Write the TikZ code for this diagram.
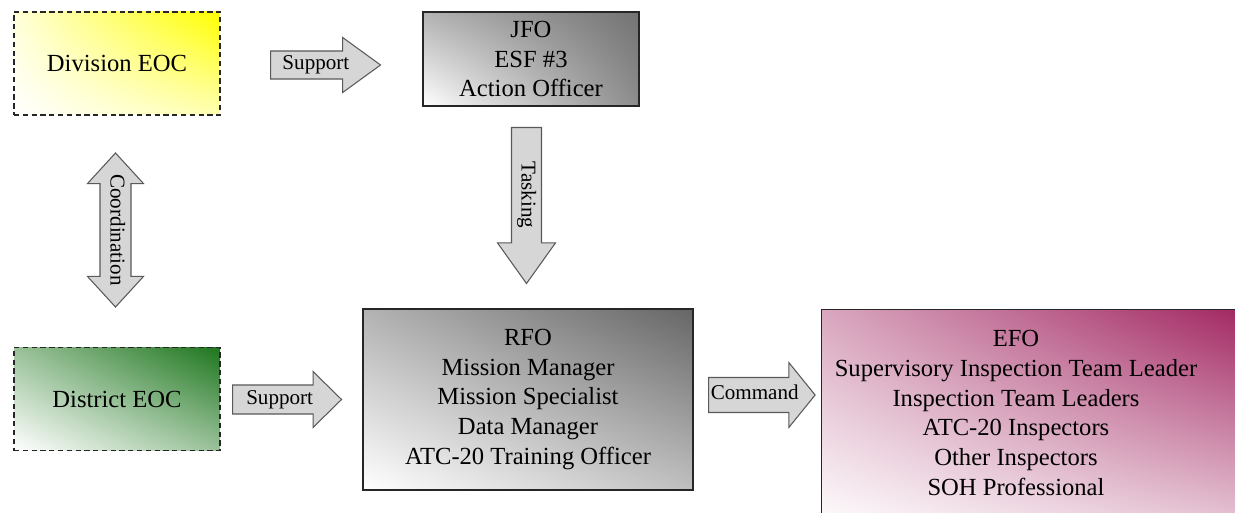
\documentclass[tikz,border=0pt]{standalone}
\usepackage{fontspec}
\setmainfont{Liberation Serif}
\newfontfamily\chartfont{Liberation Serif}
\usetikzlibrary{shapes.arrows, shadings, positioning}

\definecolor{distgreen}{RGB}{30,118,30}
\definecolor{efomaroon}{RGB}{160,35,95}
\definecolor{arrowgray}{RGB}{214,214,214}

\begin{document}
\begin{tikzpicture}[
  eocbox/.style={rectangle, draw=black!85, line width=0.8pt, dash pattern=on 3pt off 2pt,
                 minimum width=4.12cm, minimum height=2.06cm, font=\chartfont\fontsize{14}{17}\selectfont},
  officebox/.style={rectangle, draw=black!85, line width=0.8pt, align=center,
                    font=\chartfont\fontsize{14}{17}\selectfont},
  boxtext/.style={align=center, font=\chartfont\fontsize{14}{17}\selectfont},
  onearrow/.style={single arrow, draw=black!65, fill=arrowgray, line width=0.6pt, anchor=tail,
                   font=\chartfont\fontsize{12}{14}\selectfont, text height=8pt, text depth=2.5pt, inner xsep=1pt},
  twoarrow/.style={double arrow, draw=black!65, fill=arrowgray, line width=0.6pt,
                   font=\chartfont\fontsize{12}{14}\selectfont, text height=8pt, text depth=2.5pt, inner xsep=1pt}
]

\path[use as bounding box, clip] (0,0) rectangle (24.7,10.24);

% Offices
\node[eocbox, lower left=white, upper left=yellow!15, upper right=yellow, lower right=yellow!30]
  (divn) at (2.34, 8.97) {Division EOC};
\node[eocbox, lower left=white, upper left=distgreen!45, upper right=distgreen, lower right=distgreen!45]
  (dist) at (2.34, 2.26) {District EOC};
\node[officebox, minimum width=4.32cm, minimum height=1.88cm,
      lower left=white, upper left=black!30, upper right=black!55, lower right=black!45]
  (jfo) at (10.62, 9.06) {JFO\\ESF \#3\\Action Officer};
\node[officebox, minimum width=6.6cm, minimum height=3.62cm,
      lower left=white, upper left=black!30, upper right=black!60, lower right=black!25]
  (rfo) at (10.56, 2.25) {RFO\\Mission Manager\\Mission Specialist\\Data Manager\\ATC-20 Training Officer};
\node[officebox, anchor=north west, minimum width=8.7cm, minimum height=4.4cm,
      lower left=white, upper left=efomaroon!40, upper right=efomaroon, lower right=efomaroon!25]
  (efo) at (16.42, 4.06) {};
\node[boxtext] (efotext) at (20.32, 1.98)
  {EFO\\Supervisory Inspection Team Leader\\Inspection Team Leaders\\ATC-20 Inspectors\\Other Inspectors\\SOH Professional};

% Block arrows
\node[onearrow, minimum height=2.2cm, inner ysep=0.085cm, single arrow head extend=0.27cm,
      single arrow tip angle=72] (sup1) at (5.4, 8.94) {Support};
\node[onearrow, minimum height=2.18cm, inner ysep=0.095cm, single arrow head extend=0.27cm,
      single arrow tip angle=89] (sup2) at (4.64, 2.25) {Support};
\node[onearrow, minimum height=2.1cm, inner ysep=0.155cm, single arrow head extend=0.30cm,
      single arrow tip angle=102] (cmd) at (14.16, 2.34) {Command};
\node[onearrow, rotate=-90, minimum height=3.12cm, inner ysep=0.105cm, single arrow head extend=0.28cm,
      single arrow tip angle=71] (task) at (10.53, 7.7) {Tasking};
\node[twoarrow, rotate=-90, minimum height=3.08cm, inner ysep=0.115cm, double arrow head extend=0.25cm,
      double arrow tip angle=85] (coord) at (2.31, 5.64) {Coordination};

\end{tikzpicture}
\end{document}
